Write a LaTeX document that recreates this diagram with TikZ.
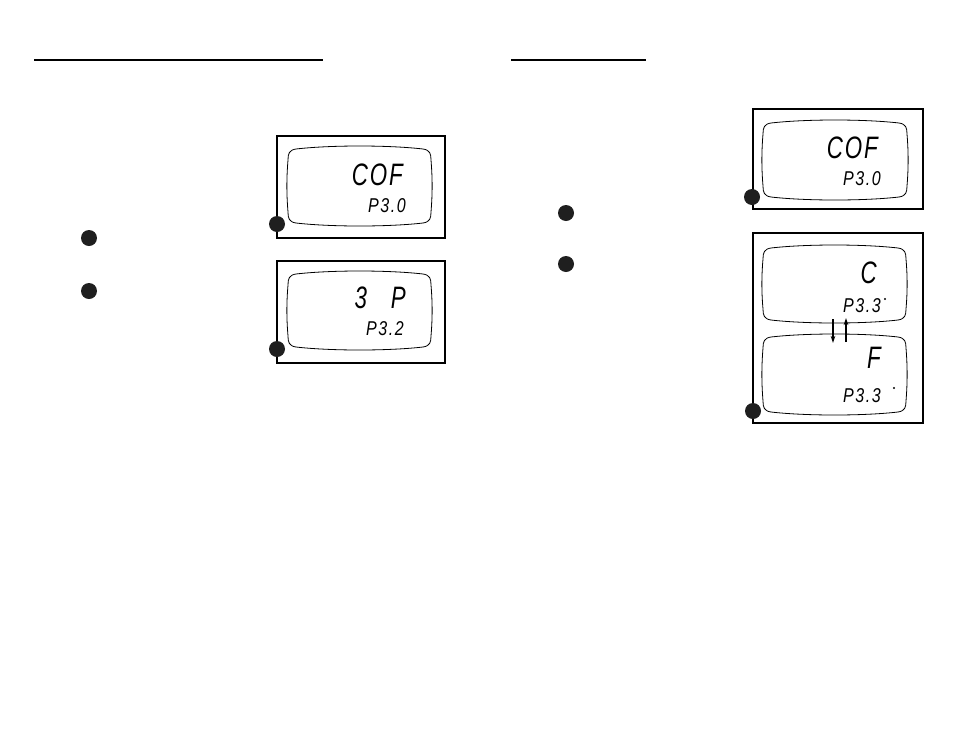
\documentclass[tikz,border=0pt]{standalone}
\usepackage{fontspec}
\usetikzlibrary{arrows.meta}
\newfontfamily\segfont{Liberation Sans}[FakeStretch=0.72, LetterSpace=6]
\newfontfamily\segsmall{Liberation Sans}[FakeStretch=0.8, LetterSpace=8]
\tikzset{
  frame/.style={draw, line width=2pt, inner sep=0, anchor=north west},
  bullet/.style={circle, fill=black!88, inner sep=0, minimum size=16pt},
  bigtxt/.style={font=\segfont\itshape\fontsize{31}{31}\selectfont, inner sep=0, anchor=base east},
  smalltxt/.style={font=\segsmall\itshape\fontsize{20}{20}\selectfont, inner sep=0, anchor=base east},
  degdot/.style={circle, fill=black, inner sep=0, minimum size=2.4pt},
  rule/.style={line width=1.6pt},
  flip/.style={line width=1.6pt, -{Stealth[length=7pt,width=4.5pt]}},
  pics/lcd/.style args={#1/#2}{code={
    \draw[line width=0.8pt]
      (8,3) .. controls ({0.3*#1},-1) and ({0.7*#1},-1) .. ({#1-8},3)
      .. controls ({#1-1},4) and (#1,8) .. (#1,14)
      .. controls ({#1+1.5},{0.4*#2}) and ({#1+1.5},{0.6*#2}) .. (#1,{#2-14})
      .. controls (#1,{#2-8}) and ({#1-1},{#2-4}) .. ({#1-8},{#2-3})
      .. controls ({0.7*#1},{#2+1}) and ({0.3*#1},{#2+1}) .. (8,{#2-3})
      .. controls (1,{#2-4}) and (0,{#2-8}) .. (0,{#2-14})
      .. controls (-1.5,{0.6*#2}) and (-1.5,{0.4*#2}) .. (0,14)
      .. controls (0,8) and (1,4) .. cycle;
  }}
}
\begin{document}
\begin{tikzpicture}[x=1pt,y=-1pt]
\useasboundingbox (0,0) rectangle (954,737);

% heading rules
\coordinate (h1a) at (34,60); \coordinate (h1b) at (323,60);
\coordinate (h2a) at (511,60); \coordinate (h2b) at (646,60);
\draw[rule] (h1a) -- (h1b);
\draw[rule] (h2a) -- (h2b);

% left bullets
\node[bullet] (lb1) at (89,238) {};
\node[bullet] (lb2) at (89,291) {};
% right bullets
\node[bullet] (rb1) at (566,213) {};
\node[bullet] (rb2) at (566,264) {};

% box 1
\node[frame, minimum width=168pt, minimum height=102pt] (box1) at (276,135) {};
\pic at (288,146) {lcd=143/80};
\node[bigtxt] (t1a) at (403,185) {COF};
\node[smalltxt] (t1b) at (406,212) {P3.0};
\node[bullet] (d1) at (277,224) {};

% box 2
\node[frame, minimum width=168pt, minimum height=102pt] (box2) at (276,260) {};
\pic at (288,271) {lcd=143/79};
\node[bigtxt] (t2a) at (406,308) {3\hspace{24pt}P};
\node[smalltxt] (t2b) at (404,335) {P3.2};
\node[bullet] (d2) at (277,349) {};

% box 3
\node[frame, minimum width=170pt, minimum height=100pt] (box3) at (752,108) {};
\pic at (763,120) {lcd=144/80};
\node[bigtxt] (t3a) at (878,158) {COF};
\node[smalltxt] (t3b) at (881,185) {P3.0};
\node[bullet] (d3) at (752,197) {};

% box 4
\node[frame, minimum width=170pt, minimum height=190pt] (box4) at (752,232) {};
\pic at (763,245) {lcd=143/78};
\pic at (763,334) {lcd=143/81};
\node[bigtxt] (t4a) at (877,283) {C};
\node[smalltxt] (t4b) at (881,312) {P3.3};
\node[degdot] (g1) at (885,299) {};
\node[bigtxt] (t4c) at (881,368) {F};
\node[smalltxt] (t4d) at (881,402) {P3.3};
\node[degdot] (g2) at (894,388) {};
\coordinate (a1s) at (833,319); \coordinate (a1e) at (833,343);
\coordinate (a2s) at (846,342); \coordinate (a2e) at (846,318);
\draw[flip] (a1s) -- (a1e);
\draw[flip, line width=1.3pt] (a2s) -- (a2e);
\node[bullet] (d4) at (753,411) {};
\end{tikzpicture}
\end{document}
